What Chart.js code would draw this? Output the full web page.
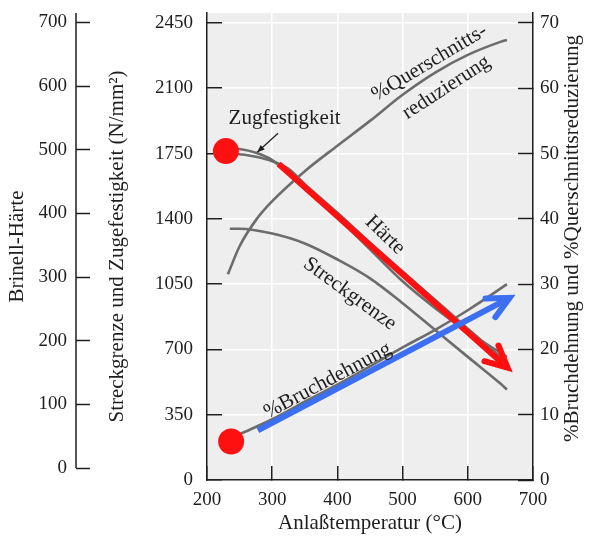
<!DOCTYPE html>
<html>
<head>
<meta charset="utf-8">
<script src="https://cdn.jsdelivr.net/npm/chart.js@4.4.1/dist/chart.umd.min.js"></script>
<style>
  html, body { margin: 0; padding: 0; background: #fff; }
  #wrap { width: 589px; height: 536px; }
</style>
</head>
<body>
<div id="wrap"><canvas id="chart"></canvas></div>
<script>
// Anlaßtemperatur vs. Festigkeit / Härte / Duktilität

const X_TICKS = [200, 300, 400, 500, 600, 700];
const STRENGTH_TICKS = [0, 350, 700, 1050, 1400, 1750, 2100, 2450];
const BRINELL_TICKS = [0, 100, 200, 300, 400, 500, 600, 700];
const PERCENT_TICKS = [0, 10, 20, 30, 40, 50, 60, 70];

// Zugfestigkeit (N/mm²)
const TEMP_ZUG = [225, 250, 275, 300, 325, 350, 400, 450, 500, 550, 600, 650, 660];
const ZUGFESTIGKEIT = [1780, 1774, 1754, 1715, 1640, 1560, 1406, 1236, 1065, 921, 794, 682, 660];

// Brinell-Härte
const TEMP_HAERTE = [225, 250, 275, 300, 325, 350, 400, 450, 500, 550, 600, 650, 660];
const HAERTE = [496, 493, 489, 482, 470, 446, 401, 354, 309, 264, 219, 175, 167];

// Streckgrenze (N/mm²)
const TEMP_STRECK = [235, 250, 300, 350, 400, 450, 500, 550, 600, 650, 660];
const STRECKGRENZE = [1347, 1347, 1321, 1268, 1182, 1081, 948, 804, 660, 517, 485];

// %Querschnittsreduzierung
const TEMP_QUER = [232, 250, 275, 300, 350, 400, 450, 500, 550, 600, 650, 660];
const QUERSCHNITT = [31.5, 35.8, 39.8, 42.7, 47.3, 51.2, 55.0, 59.0, 62.4, 65.1, 67.1, 67.4];

// %Bruchdehnung
const TEMP_BRUCH = [235, 250, 300, 350, 400, 450, 500, 550, 600, 650, 660];
const BRUCHDEHNUNG = [6.3, 7.0, 9.3, 12.0, 14.6, 17.4, 20.3, 23.0, 26.0, 29.3, 30.0];

// hand-drawn markers on top of the figure
const DOT_STRENGTH = [{ x: 229, y: 1763 }];
const DOT_PERCENT = [{ x: 237, y: 5.9 }];
const RED_ARROW = [{ x: 310, y: 1694 }, { x: 661, y: 602 }];
const BLUE_ARROW = [{ x: 278, y: 7.6 }, { x: 664, y: 27.9 }];

const SERIF = "'Liberation Serif', 'DejaVu Serif', serif";
const INK = '#1e1e1e';
const GRAY = '#6c6c6c';
const RED = '#ff1010';
const BLUE = '#3d70f0';

// curve labels, placed in (°C, %) units
const NOTES = [
  { text: 'Zugfestigkeit', x: 319, y: 55.4, rot: 0 },
  { text: '%Querschnitts-', x: 541, y: 63.9, rot: -31 },
  { text: 'reduzierung', x: 567, y: 60.1, rot: -33 },
  { text: 'Härte', x: 473, y: 37.5, rot: 44 },
  { text: 'Streckgrenze', x: 419, y: 28.5, rot: 36 },
  { text: '%Bruchdehnung', x: 385, y: 15.2, rot: -28 }
];
const ZUG_POINTER = [{ x: 309, y: 53.1 }, { x: 277, y: 50.2 }];

const pts = (xs, ys) => xs.map((x, i) => ({ x, y: ys[i] }));

function curve(label, data, axis) {
  return {
    label, data, yAxisID: axis,
    borderColor: GRAY, borderWidth: 2.6,
    pointRadius: 0, fill: false,
    cubicInterpolationMode: 'monotone'
  };
}

// tick padding is only used to push labels past the inward ticks,
// so don't let it eat into the chart area
function fixSize(prop, size) {
  return s => {
    s[prop] = size;
    s.paddingTop = 0; s.paddingBottom = 0;
    s.paddingLeft = 0; s.paddingRight = 0;
  };
}

const plotBackground = {
  id: 'plotBackground',
  beforeDraw(chart) {
    const { ctx, chartArea: a } = chart;
    ctx.save();
    ctx.fillStyle = '#eeeeee';
    ctx.fillRect(a.left, a.top, a.right - a.left, a.bottom - a.top);
    ctx.restore();
  }
};

function drawHead(ctx, p0, p1, len, spread) {
  const ang = Math.atan2(p1.y - p0.y, p1.x - p0.x);
  ctx.beginPath();
  ctx.moveTo(p1.x - len * Math.cos(ang - spread), p1.y - len * Math.sin(ang - spread));
  ctx.lineTo(p1.x, p1.y);
  ctx.lineTo(p1.x - len * Math.cos(ang + spread), p1.y - len * Math.sin(ang + spread));
}

const annotations = {
  id: 'annotations',
  afterDatasetsDraw(chart) {
    const ctx = chart.ctx;
    const sx = chart.scales.x, sp = chart.scales.yP;

    // arrow heads for the red and blue arrows
    chart.data.datasets.forEach((ds, i) => {
      if (!ds.arrow) return;
      const d = chart.getDatasetMeta(i).data;
      ctx.save();
      ctx.strokeStyle = ds.borderColor;
      ctx.lineWidth = ds.borderWidth;
      ctx.lineJoin = 'miter';
      ctx.lineCap = 'round';
      drawHead(ctx, d[d.length - 2], d[d.length - 1], 24, 26 * Math.PI / 180);
      ctx.stroke();
      ctx.restore();
    });

    // pointer from "Zugfestigkeit" to its curve
    const a = { x: sx.getPixelForValue(ZUG_POINTER[0].x), y: sp.getPixelForValue(ZUG_POINTER[0].y) };
    const b = { x: sx.getPixelForValue(ZUG_POINTER[1].x), y: sp.getPixelForValue(ZUG_POINTER[1].y) };
    ctx.save();
    ctx.strokeStyle = INK;
    ctx.fillStyle = INK;
    ctx.lineWidth = 1.2;
    ctx.beginPath();
    ctx.moveTo(a.x, a.y);
    ctx.lineTo(b.x, b.y);
    ctx.stroke();
    drawHead(ctx, a, b, 8, 22 * Math.PI / 180);
    ctx.closePath();
    ctx.fill();

    // curve names
    ctx.font = '21px ' + SERIF;
    ctx.textAlign = 'center';
    ctx.textBaseline = 'middle';
    NOTES.forEach(n => {
      ctx.save();
      ctx.translate(sx.getPixelForValue(n.x), sp.getPixelForValue(n.y));
      ctx.rotate(n.rot * Math.PI / 180);
      ctx.fillText(n.text, 0, 0);
      ctx.restore();
    });
    ctx.restore();
  },
  afterDraw(chart) {
    const ctx = chart.ctx;
    // Brinell axis line only runs down to its 0 tick
    const sb = chart.scales.yB;
    ctx.save();
    ctx.strokeStyle = INK;
    ctx.lineWidth = 1.5;
    ctx.beginPath();
    ctx.moveTo(sb.right, sb.top);
    ctx.lineTo(sb.right, sb.getPixelForValue(0));
    ctx.stroke();

    // right title reads bottom-to-top like the left ones
    const sp = chart.scales.yP;
    ctx.translate(sp.right - 17, (sp.top + sp.bottom) / 2 - 8);
    ctx.rotate(-Math.PI / 2);
    ctx.font = '21px ' + SERIF;
    ctx.fillStyle = INK;
    ctx.textAlign = 'center';
    ctx.textBaseline = 'middle';
    ctx.fillText('%Bruchdehnung und %Querschnittsreduzierung', 0, 0);
    ctx.restore();
  }
};

const tickFont = { family: SERIF, size: 19, lineHeight: 1 };
const titleFont = { family: SERIF, size: 21 };
const hideAt = vals => c => (c.tick && vals.includes(c.tick.value)) ? 'rgba(0,0,0,0)' : '#ffffff';

new Chart(document.getElementById('chart'), {
  type: 'line',
  data: {
    datasets: [
      { data: DOT_STRENGTH, yAxisID: 'y', showLine: false, pointRadius: 13, pointHoverRadius: 13,
        pointBackgroundColor: RED, pointBorderWidth: 0 },
      { data: DOT_PERCENT, yAxisID: 'yP', showLine: false, pointRadius: 13, pointHoverRadius: 13,
        pointBackgroundColor: RED, pointBorderWidth: 0 },
      { data: BLUE_ARROW, yAxisID: 'yP', borderColor: BLUE, borderWidth: 6, pointRadius: 0, arrow: true },
      { data: RED_ARROW, yAxisID: 'y', borderColor: RED, borderWidth: 6, pointRadius: 0, arrow: true },
      curve('Zugfestigkeit', pts(TEMP_ZUG, ZUGFESTIGKEIT), 'y'),
      curve('Härte', pts(TEMP_HAERTE, HAERTE), 'yB'),
      curve('Streckgrenze', pts(TEMP_STRECK, STRECKGRENZE), 'y'),
      curve('%Querschnittsreduzierung', pts(TEMP_QUER, QUERSCHNITT), 'yP'),
      curve('%Bruchdehnung', pts(TEMP_BRUCH, BRUCHDEHNUNG), 'yP')
    ]
  },
  options: {
    responsive: true,
    maintainAspectRatio: false,
    animation: false,
    layout: { padding: { top: 10, left: 0, right: 0, bottom: 0 } },
    plugins: { legend: { display: false }, tooltip: { enabled: false } },
    scales: {
      x: {
        type: 'linear', position: 'bottom', min: 200, max: 700,
        afterBuildTicks: s => { s.ticks = X_TICKS.map(v => ({ value: v })); },
        afterFit: fixSize('height', 56),
        border: { color: INK, width: 1.5 },
        grid: { color: hideAt([200, 700]), lineWidth: 1.5, tickLength: -14, tickColor: INK, tickWidth: 1.5 },
        ticks: { font: tickFont, color: INK, padding: 25, maxRotation: 0, autoSkip: false, callback: v => v },
        title: { display: true, text: 'Anlaßtemperatur (°C)', font: titleFont, color: INK, padding: { top: 0, bottom: 0 } }
      },
      y: {
        type: 'linear', position: 'left', weight: 0, min: 0, max: 2450 * 470 / 460,
        afterBuildTicks: s => { s.ticks = STRENGTH_TICKS.map(v => ({ value: v })); },
        afterFit: fixSize('width', 131),
        border: { color: INK, width: 1.5 },
        grid: { color: hideAt([0]), lineWidth: 1.5, tickLength: -15, tickColor: INK, tickWidth: 1.5 },
        ticks: { font: tickFont, color: INK, padding: 29, callback: v => v },
        title: { display: true, text: 'Streckgrenze und Zugefestigkeit (N/mm²)', font: titleFont, color: INK,
                 padding: { top: 29, bottom: 0 } }
      },
      yB: {
        type: 'linear', position: 'left', weight: 1, min: -18.7, max: 714.8,
        afterBuildTicks: s => { s.ticks = BRINELL_TICKS.map(v => ({ value: v })); },
        afterFit: fixSize('width', 76),
        border: { display: false },
        grid: { drawOnChartArea: false, tickLength: -14, tickColor: INK, tickWidth: 1.5 },
        ticks: { font: tickFont, color: INK, padding: 23, callback: v => v },
        title: { display: true, text: 'Brinell-Härte', font: titleFont, color: INK, padding: { top: 5, bottom: 0 } }
      },
      yP: {
        type: 'linear', position: 'right', min: 0, max: 70 * 470 / 460,
        afterBuildTicks: s => { s.ticks = PERCENT_TICKS.map(v => ({ value: v })); },
        afterFit: fixSize('width', 56),
        border: { color: INK, width: 1.5 },
        grid: { drawOnChartArea: false, tickLength: -15, tickColor: INK, tickWidth: 1.5 },
        ticks: { font: tickFont, color: INK, padding: 22, callback: v => v }
      }
    }
  },
  plugins: [plotBackground, annotations]
});
</script>
</body>
</html>
